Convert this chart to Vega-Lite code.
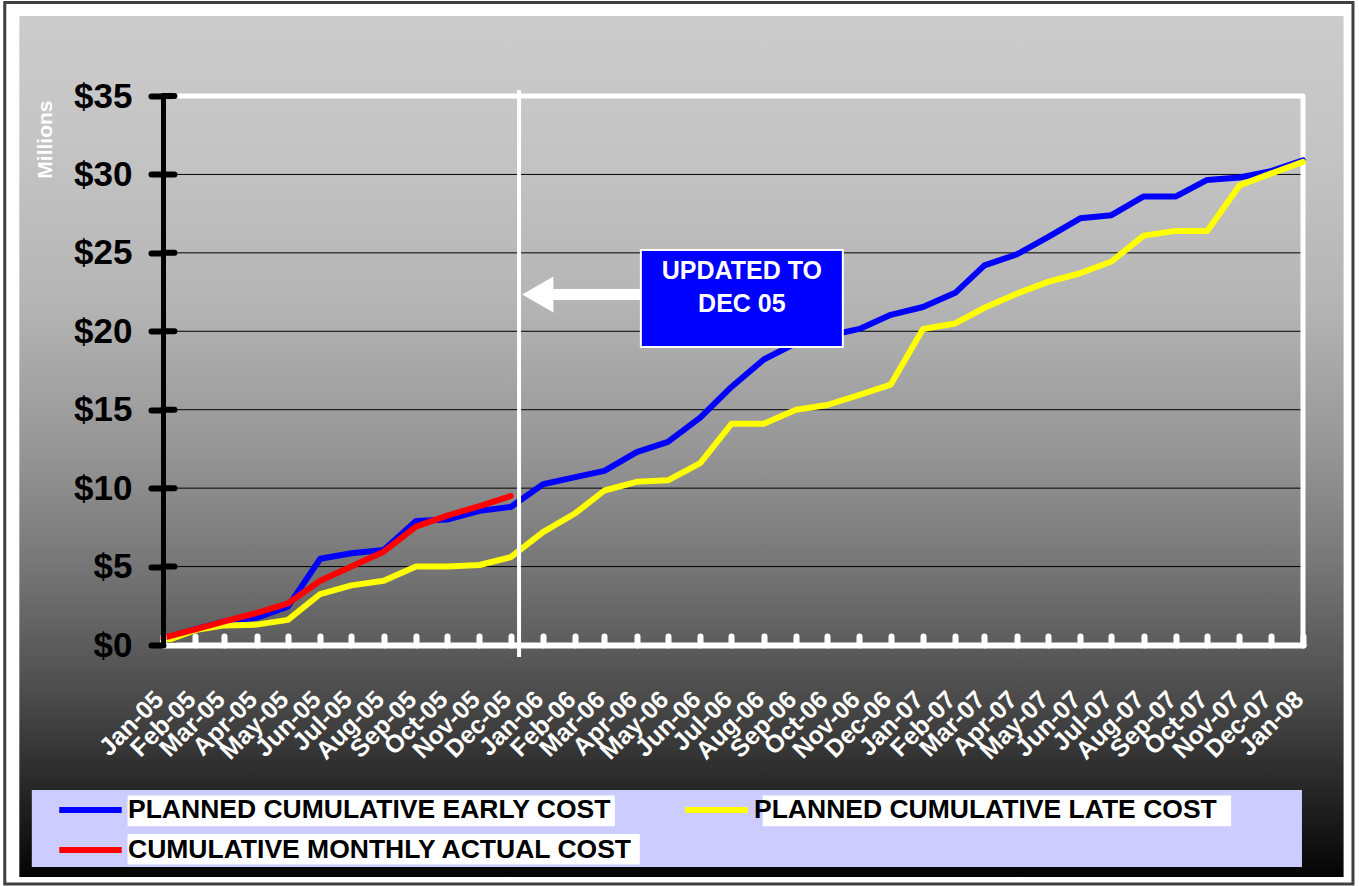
{
  "$schema": "https://vega.github.io/schema/vega-lite/v6.json",
  "width": 1140,
  "height": 549,
  "autosize": {"type": "none"},
  "padding": {"left": 163, "top": 96, "right": 56, "bottom": 241},
  "background": "white",
  "config": {"view": {"stroke": null}, "font": "Liberation Sans"},
  "datasets": {
    "ticks": [{"v": 0}, {"v": 5}, {"v": 10}, {"v": 15}, {"v": 20}, {"v": 25}, {"v": 30}, {"v": 35}],
    "costs": [
      {"month": "2005-01-01", "series": "PLANNED CUMULATIVE EARLY COST", "cost": 0.4},
      {"month": "2005-02-01", "series": "PLANNED CUMULATIVE EARLY COST", "cost": 1.0},
      {"month": "2005-03-01", "series": "PLANNED CUMULATIVE EARLY COST", "cost": 1.5},
      {"month": "2005-04-01", "series": "PLANNED CUMULATIVE EARLY COST", "cost": 1.75},
      {"month": "2005-05-01", "series": "PLANNED CUMULATIVE EARLY COST", "cost": 2.45},
      {"month": "2005-06-01", "series": "PLANNED CUMULATIVE EARLY COST", "cost": 5.5},
      {"month": "2005-07-01", "series": "PLANNED CUMULATIVE EARLY COST", "cost": 5.85},
      {"month": "2005-08-01", "series": "PLANNED CUMULATIVE EARLY COST", "cost": 6.05},
      {"month": "2005-09-01", "series": "PLANNED CUMULATIVE EARLY COST", "cost": 7.9},
      {"month": "2005-10-01", "series": "PLANNED CUMULATIVE EARLY COST", "cost": 8.0},
      {"month": "2005-11-01", "series": "PLANNED CUMULATIVE EARLY COST", "cost": 8.55},
      {"month": "2005-12-01", "series": "PLANNED CUMULATIVE EARLY COST", "cost": 8.8},
      {"month": "2006-01-01", "series": "PLANNED CUMULATIVE EARLY COST", "cost": 10.25},
      {"month": "2006-02-01", "series": "PLANNED CUMULATIVE EARLY COST", "cost": 10.7},
      {"month": "2006-03-01", "series": "PLANNED CUMULATIVE EARLY COST", "cost": 11.1},
      {"month": "2006-04-01", "series": "PLANNED CUMULATIVE EARLY COST", "cost": 12.3},
      {"month": "2006-05-01", "series": "PLANNED CUMULATIVE EARLY COST", "cost": 12.95},
      {"month": "2006-06-01", "series": "PLANNED CUMULATIVE EARLY COST", "cost": 14.5},
      {"month": "2006-07-01", "series": "PLANNED CUMULATIVE EARLY COST", "cost": 16.45},
      {"month": "2006-08-01", "series": "PLANNED CUMULATIVE EARLY COST", "cost": 18.2},
      {"month": "2006-09-01", "series": "PLANNED CUMULATIVE EARLY COST", "cost": 19.25},
      {"month": "2006-10-01", "series": "PLANNED CUMULATIVE EARLY COST", "cost": 19.7},
      {"month": "2006-11-01", "series": "PLANNED CUMULATIVE EARLY COST", "cost": 20.15},
      {"month": "2006-12-01", "series": "PLANNED CUMULATIVE EARLY COST", "cost": 21.05},
      {"month": "2007-01-01", "series": "PLANNED CUMULATIVE EARLY COST", "cost": 21.55},
      {"month": "2007-02-01", "series": "PLANNED CUMULATIVE EARLY COST", "cost": 22.45},
      {"month": "2007-03-01", "series": "PLANNED CUMULATIVE EARLY COST", "cost": 24.2},
      {"month": "2007-04-01", "series": "PLANNED CUMULATIVE EARLY COST", "cost": 24.9},
      {"month": "2007-05-01", "series": "PLANNED CUMULATIVE EARLY COST", "cost": 26.0},
      {"month": "2007-06-01", "series": "PLANNED CUMULATIVE EARLY COST", "cost": 27.2},
      {"month": "2007-07-01", "series": "PLANNED CUMULATIVE EARLY COST", "cost": 27.4},
      {"month": "2007-08-01", "series": "PLANNED CUMULATIVE EARLY COST", "cost": 28.6},
      {"month": "2007-09-01", "series": "PLANNED CUMULATIVE EARLY COST", "cost": 28.6},
      {"month": "2007-10-01", "series": "PLANNED CUMULATIVE EARLY COST", "cost": 29.65},
      {"month": "2007-11-01", "series": "PLANNED CUMULATIVE EARLY COST", "cost": 29.8},
      {"month": "2007-12-01", "series": "PLANNED CUMULATIVE EARLY COST", "cost": 30.2},
      {"month": "2008-01-01", "series": "PLANNED CUMULATIVE EARLY COST", "cost": 30.9},
      {"month": "2005-01-01", "series": "PLANNED CUMULATIVE LATE COST", "cost": 0.2},
      {"month": "2005-02-01", "series": "PLANNED CUMULATIVE LATE COST", "cost": 0.95},
      {"month": "2005-03-01", "series": "PLANNED CUMULATIVE LATE COST", "cost": 1.25},
      {"month": "2005-04-01", "series": "PLANNED CUMULATIVE LATE COST", "cost": 1.3},
      {"month": "2005-05-01", "series": "PLANNED CUMULATIVE LATE COST", "cost": 1.6},
      {"month": "2005-06-01", "series": "PLANNED CUMULATIVE LATE COST", "cost": 3.25},
      {"month": "2005-07-01", "series": "PLANNED CUMULATIVE LATE COST", "cost": 3.8},
      {"month": "2005-08-01", "series": "PLANNED CUMULATIVE LATE COST", "cost": 4.1},
      {"month": "2005-09-01", "series": "PLANNED CUMULATIVE LATE COST", "cost": 5.0},
      {"month": "2005-10-01", "series": "PLANNED CUMULATIVE LATE COST", "cost": 5.0},
      {"month": "2005-11-01", "series": "PLANNED CUMULATIVE LATE COST", "cost": 5.1},
      {"month": "2005-12-01", "series": "PLANNED CUMULATIVE LATE COST", "cost": 5.6},
      {"month": "2006-01-01", "series": "PLANNED CUMULATIVE LATE COST", "cost": 7.2},
      {"month": "2006-02-01", "series": "PLANNED CUMULATIVE LATE COST", "cost": 8.4},
      {"month": "2006-03-01", "series": "PLANNED CUMULATIVE LATE COST", "cost": 9.85},
      {"month": "2006-04-01", "series": "PLANNED CUMULATIVE LATE COST", "cost": 10.4},
      {"month": "2006-05-01", "series": "PLANNED CUMULATIVE LATE COST", "cost": 10.5},
      {"month": "2006-06-01", "series": "PLANNED CUMULATIVE LATE COST", "cost": 11.6},
      {"month": "2006-07-01", "series": "PLANNED CUMULATIVE LATE COST", "cost": 14.1},
      {"month": "2006-08-01", "series": "PLANNED CUMULATIVE LATE COST", "cost": 14.1},
      {"month": "2006-09-01", "series": "PLANNED CUMULATIVE LATE COST", "cost": 15.0},
      {"month": "2006-10-01", "series": "PLANNED CUMULATIVE LATE COST", "cost": 15.3},
      {"month": "2006-11-01", "series": "PLANNED CUMULATIVE LATE COST", "cost": 15.95},
      {"month": "2006-12-01", "series": "PLANNED CUMULATIVE LATE COST", "cost": 16.6},
      {"month": "2007-01-01", "series": "PLANNED CUMULATIVE LATE COST", "cost": 20.15},
      {"month": "2007-02-01", "series": "PLANNED CUMULATIVE LATE COST", "cost": 20.5},
      {"month": "2007-03-01", "series": "PLANNED CUMULATIVE LATE COST", "cost": 21.5},
      {"month": "2007-04-01", "series": "PLANNED CUMULATIVE LATE COST", "cost": 22.4},
      {"month": "2007-05-01", "series": "PLANNED CUMULATIVE LATE COST", "cost": 23.15},
      {"month": "2007-06-01", "series": "PLANNED CUMULATIVE LATE COST", "cost": 23.7},
      {"month": "2007-07-01", "series": "PLANNED CUMULATIVE LATE COST", "cost": 24.45},
      {"month": "2007-08-01", "series": "PLANNED CUMULATIVE LATE COST", "cost": 26.1},
      {"month": "2007-09-01", "series": "PLANNED CUMULATIVE LATE COST", "cost": 26.4},
      {"month": "2007-10-01", "series": "PLANNED CUMULATIVE LATE COST", "cost": 26.4},
      {"month": "2007-11-01", "series": "PLANNED CUMULATIVE LATE COST", "cost": 29.3},
      {"month": "2007-12-01", "series": "PLANNED CUMULATIVE LATE COST", "cost": 30.05},
      {"month": "2008-01-01", "series": "PLANNED CUMULATIVE LATE COST", "cost": 30.8},
      {"month": "2005-01-01", "series": "CUMULATIVE MONTHLY ACTUAL COST", "cost": 0.45},
      {"month": "2005-02-01", "series": "CUMULATIVE MONTHLY ACTUAL COST", "cost": 1.0},
      {"month": "2005-03-01", "series": "CUMULATIVE MONTHLY ACTUAL COST", "cost": 1.5},
      {"month": "2005-04-01", "series": "CUMULATIVE MONTHLY ACTUAL COST", "cost": 2.05},
      {"month": "2005-05-01", "series": "CUMULATIVE MONTHLY ACTUAL COST", "cost": 2.65},
      {"month": "2005-06-01", "series": "CUMULATIVE MONTHLY ACTUAL COST", "cost": 4.1},
      {"month": "2005-07-01", "series": "CUMULATIVE MONTHLY ACTUAL COST", "cost": 5.0},
      {"month": "2005-08-01", "series": "CUMULATIVE MONTHLY ACTUAL COST", "cost": 5.95},
      {"month": "2005-09-01", "series": "CUMULATIVE MONTHLY ACTUAL COST", "cost": 7.55},
      {"month": "2005-10-01", "series": "CUMULATIVE MONTHLY ACTUAL COST", "cost": 8.25},
      {"month": "2005-11-01", "series": "CUMULATIVE MONTHLY ACTUAL COST", "cost": 8.85},
      {"month": "2005-12-01", "series": "CUMULATIVE MONTHLY ACTUAL COST", "cost": 9.5}
    ]
  },
  "layer": [
    {
      "data": {"values": [{}]},
      "mark": {"type": "rect", "fill": "white", "stroke": "#404040", "strokeWidth": 3},
      "encoding": {
        "x": {"datum": {"year": 2004, "month": 8, "date": 2}, "type": "temporal"},
        "x2": {"datum": {"year": 2008, "month": 2, "date": 18}},
        "y": {"datum": 40.96, "type": "quantitative"},
        "y2": {"datum": -15.24}
      }
    },
    {
      "data": {"values": [{}]},
      "mark": {
        "type": "rect",
        "fill": {
          "gradient": "linear", "x1": 0, "y1": 0, "x2": 0, "y2": 1,
          "stops": [
            {"offset": 0, "color": "#cccccc"},
            {"offset": 0.156, "color": "#c4c4c4"},
            {"offset": 0.33, "color": "#b5b5b5"},
            {"offset": 0.504, "color": "#969696"},
            {"offset": 0.632, "color": "#787878"},
            {"offset": 0.731, "color": "#5c5c5c"},
            {"offset": 0.794, "color": "#4a4a4a"},
            {"offset": 0.887, "color": "#2a2a2a"},
            {"offset": 1, "color": "#040404"}
          ]
        }
      },
      "encoding": {
        "x": {"datum": {"year": 2004, "month": 8, "date": 16}, "type": "temporal"},
        "x2": {"datum": {"year": 2008, "month": 2, "date": 9}},
        "y": {"datum": 40.1, "type": "quantitative"},
        "y2": {"datum": -14.79}
      }
    },
    {
      "data": {"values": [{}]},
      "mark": {"type": "rect", "fill": "#ccccff"},
      "encoding": {
        "x": {"datum": {"year": 2004, "month": 8, "date": 28}, "type": "temporal"},
        "x2": {"datum": {"year": 2007, "month": 12, "date": 31}},
        "y": {"datum": -9.24, "type": "quantitative"},
        "y2": {"datum": -14.15}
      }
    },
    {
      "data": {"values": [{}]},
      "mark": {"type": "rect", "fill": "white"},
      "encoding": {
        "x": {"datum": {"year": 2004, "month": 11, "date": 28}, "type": "temporal"},
        "x2": {"datum": {"year": 2006, "month": 3, "date": 11}},
        "y": {"datum": -9.6, "type": "quantitative"},
        "y2": {"datum": -11.55}
      }
    },
    {
      "data": {"values": [{}]},
      "mark": {"type": "rect", "fill": "white"},
      "encoding": {
        "x": {"datum": {"year": 2004, "month": 11, "date": 28}, "type": "temporal"},
        "x2": {"datum": {"year": 2006, "month": 4, "date": 4}},
        "y": {"datum": -12.05, "type": "quantitative"},
        "y2": {"datum": -14.0}
      }
    },
    {
      "data": {"values": [{}]},
      "mark": {"type": "rect", "fill": "white"},
      "encoding": {
        "x": {"datum": {"year": 2006, "month": 7, "date": 31}, "type": "temporal"},
        "x2": {"datum": {"year": 2007, "month": 10, "date": 24}},
        "y": {"datum": -9.6, "type": "quantitative"},
        "y2": {"datum": -11.55}
      }
    },
    {
      "data": {"name": "ticks"},
      "transform": [{"filter": "datum.v > 0"}],
      "mark": {"type": "rule"},
      "encoding": {
        "y": {"field": "v", "type": "quantitative", "title": "Millions"},
        "x": {"datum": {"year": 2005, "month": 1, "date": 1}, "type": "temporal"},
        "x2": {"datum": {"year": 2008, "month": 1, "date": 1}},
        "color": {"condition": {"test": "datum.v === 35", "value": "white"}, "value": "black"},
        "strokeWidth": {"condition": {"test": "datum.v === 35", "value": 5}, "value": 1}
      }
    },
    {
      "data": {"values": [{}]},
      "mark": {"type": "rule", "color": "white", "strokeWidth": 5, "strokeCap": "round"},
      "encoding": {
        "x": {"datum": {"year": 2008, "month": 1, "date": 1}, "type": "temporal"},
        "y": {"datum": 0, "type": "quantitative"},
        "y2": {"datum": 35}
      }
    },
    {
      "data": {"name": "costs"},
      "mark": {"type": "line", "strokeWidth": 6, "strokeCap": "round", "strokeJoin": "round"},
      "encoding": {
        "x": {
          "field": "month", "type": "temporal",
          "scale": {"domain": [{"year": 2005, "month": 1, "date": 1}, {"year": 2008, "month": 1, "date": 1}], "nice": false},
          "axis": {
            "format": "%b-%y", "formatType": "time",
            "tickCount": {"interval": "month", "step": 1},
            "labelAngle": -45, "labelAlign": "right", "labelBaseline": "middle",
            "labelColor": "white", "labelFont": "Liberation Sans", "labelFontSize": 25, "labelFontWeight": "bold",
            "labelPadding": 59, "labelOffset": -4, "labelOverlap": false, "labelFlush": false, "labelBound": false,
            "domainColor": "white", "domainWidth": 6, "domainCap": "round",
            "tickColor": "white", "tickWidth": 6, "tickSize": -9, "tickCap": "round",
            "grid": false, "title": null, "zindex": 1
          }
        },
        "y": {
          "field": "cost", "type": "quantitative", "title": "Millions",
          "scale": {"domain": [0, 35], "nice": false, "zero": false},
          "axis": {
            "values": [0, 5, 10, 15, 20, 25, 30, 35],
            "labelExpr": "'$' + datum.value",
            "labelFont": "Liberation Sans", "labelFontSize": 35, "labelFontWeight": "bold", "labelColor": "black",
            "labelPadding": 19, "labelOverlap": false, "labelFlush": false,
            "domainColor": "black", "domainWidth": 5, "domainCap": "round",
            "tickColor": "black", "tickWidth": 6, "tickSize": 12, "tickCap": "round",
            "grid": false,
            "title": "Millions", "titleColor": "white", "titleFont": "Liberation Sans", "titleFontSize": 21, "titleFontWeight": "bold",
            "titleAngle": -90, "titleX": -118, "titleY": 4, "titleAlign": "right", "titleBaseline": "middle",
            "zindex": 1
          }
        },
        "color": {
          "field": "series", "type": "nominal",
          "scale": {
            "domain": ["PLANNED CUMULATIVE EARLY COST", "CUMULATIVE MONTHLY ACTUAL COST", "PLANNED CUMULATIVE LATE COST"],
            "range": ["#0000ff", "#ff0000", "#ffff00"]
          },
          "legend": {
            "title": null, "orient": "none", "legendX": -107, "legendY": 694,
            "columns": 2, "columnPadding": 49, "rowPadding": 0, "padding": 0, "clipHeight": 40,
            "symbolType": "stroke", "symbolSize": 3900, "symbolStrokeWidth": 6,
            "labelFont": "Liberation Sans", "labelFontSize": 26.5, "labelFontWeight": "bold", "labelColor": "black",
            "labelLimit": 1000, "labelOffset": 3
          }
        }
      }
    },
    {
      "data": {"name": "ticks"},
      "mark": {"type": "rule", "color": "black", "strokeWidth": 6, "strokeCap": "round"},
      "encoding": {
        "y": {"field": "v", "type": "quantitative", "title": "Millions"},
        "x": {"datum": {"year": 2005, "month": 1, "date": 1}, "type": "temporal"},
        "x2": {"datum": {"year": 2005, "month": 1, "date": 12}}
      }
    },
    {
      "data": {"values": [{}]},
      "mark": {"type": "rule", "color": "white", "strokeWidth": 4},
      "encoding": {
        "x": {"datum": {"year": 2005, "month": 12, "date": 9}, "type": "temporal"},
        "y": {"datum": 35.38, "type": "quantitative"},
        "y2": {"datum": -0.77}
      }
    },
    {
      "data": {"values": [{}]},
      "mark": {"type": "rule", "color": "white", "strokeWidth": 11},
      "encoding": {
        "x": {"datum": {"year": 2006, "month": 1, "date": 5}, "type": "temporal"},
        "x2": {"datum": {"year": 2006, "month": 4, "date": 5}},
        "y": {"datum": 22.34, "type": "quantitative"}
      }
    },
    {
      "data": {"values": [{}]},
      "mark": {"type": "point", "shape": "triangle-left", "filled": true, "color": "white", "opacity": 1, "size": 1296},
      "encoding": {
        "x": {"datum": {"year": 2005, "month": 12, "date": 27}, "type": "temporal"},
        "y": {"datum": 22.34, "type": "quantitative"}
      }
    },
    {
      "data": {"values": [{}]},
      "mark": {"type": "rect", "fill": "#0000ff", "stroke": "white", "strokeWidth": 2},
      "encoding": {
        "x": {"datum": {"year": 2006, "month": 4, "date": 5}, "type": "temporal"},
        "x2": {"datum": {"year": 2006, "month": 10, "date": 16}},
        "y": {"datum": 25.18, "type": "quantitative"},
        "y2": {"datum": 19.0}
      }
    },
    {
      "data": {"values": [{}]},
      "mark": {
        "type": "text", "text": ["UPDATED TO", "DEC 05"], "color": "white",
        "font": "Liberation Sans", "fontSize": 25, "fontWeight": "bold",
        "align": "center", "baseline": "middle", "lineHeight": 33
      },
      "encoding": {
        "x": {"datum": {"year": 2006, "month": 7, "date": 11}, "type": "temporal"},
        "y": {"datum": 23.85, "type": "quantitative"}
      }
    }
  ]
}
